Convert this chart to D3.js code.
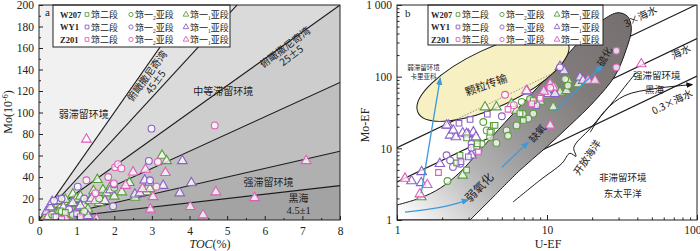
<!DOCTYPE html>
<html>
<head>
<meta charset="utf-8">
<script src="https://cdn.jsdelivr.net/npm/d3@7"></script>
<style>
body { margin: 0; background: #fff; }
text { font-family: "Liberation Serif", "Times New Roman", serif; fill: #222; }
.cn { font-family: "Noto Sans CJK SC", sans-serif; }
</style>
</head>
<body>
<svg id="chart" width="700" height="251"></svg>
<script>
// ---------- data ----------
const wells = ["W207", "WY1", "Z201"];
const wellColors = ["#5a9e3c", "#8a5fc6", "#e05cbc"];
const members = ["筇二段", "筇一2亚段", "筇一1亚段"];

// panel a : Mo/TOC reference lines (Mo = k * TOC)
const moTocSlopes = [50, 38, 25, 16, 8, 4];
const zoneFills = ["#f1f1f1", "#e3e3e3", "#dadada", "#cdcdcd", "#bfbfbf", "#b0b0b0", "#a3a3a3"];

// panel a points [TOC %, Mo ppm]
const aW207sq = [[0.4, 3], [0.7, 7]];
const aW207c2 = [[0.35, 5], [0.6, 8], [0.9, 5], [1.2, 8], [1.6, 20], [2.0, 30]];
const aW207t1 = [[0.15, 2], [0.25, 4], [0.3, 8], [0.35, 11], [0.45, 6], [0.5, 3], [0.55, 9], [0.6, 14], [0.65, 17],
  [0.7, 19], [0.75, 6], [0.8, 10], [0.85, 15], [0.9, 24], [1.0, 20], [1.05, 12], [1.1, 22], [1.15, 17], [1.2, 14],
  [1.3, 10], [1.35, 18], [1.45, 27], [1.5, 23], [1.55, 37.5], [1.6, 16], [1.7, 28], [1.8, 25], [1.9, 31], [2.0, 22],
  [2.2, 26], [2.4, 34.7], [2.55, 21], [2.86, 26], [2.9, 31], [2.95, 29], [3.27, 60], [3.39, 55]];
const aWY1sq = [[0.45, 3], [1.0, 6]];
const aWY1c2 = [[0.4, 18], [0.6, 20], [0.8, 10], [1.03, 31], [1.2, 20], [1.97, 12.9], [2.0, 33], [2.92, 55], [2.99, 85], [2.95, 37]];
const aWY1t1 = [[0.2, 8], [0.3, 12], [0.35, 17], [0.5, 18], [0.65, 12], [0.9, 16], [1.1, 13], [1.3, 4], [1.4, 20],
  [1.75, 18], [1.9, 28], [2.55, 24], [2.68, 25], [2.81, 37], [2.94, 35], [3.3, 32], [3.74, 25], [3.81, 55], [4.05, 34.4]];
const aZ201sq = [[0.6, 1], [1.1, 3]];
const aZ201c2 = [[1.26, 37], [1.84, 40], [1.99, 34], [2.02, 49], [2.1, 52], [2.19, 48], [3.12, 31], [3.16, 54], [4.67, 88], [1.5, 25]];
const aZ201t1 = [[0.25, 3], [0.7, 2], [1.26, 75], [1.5, 18], [1.53, 0.6], [2.3, 32], [2.5, 44.5], [2.83, 47], [2.96, 9.9],
  [3.03, 21.5], [3.36, 44], [4.02, 12.3], [4.36, 4.6], [4.7, 26], [5.73, 20.6], [7.1, 55], [2.75, 29]];

// panel b : seawater Mo/U lines (Mo-EF = f * ratio * U-EF)
const seawaterRatio = 3.4;
const seawaterFactors = [3, 1, 0.3];

// panel b outlines [U-EF, Mo-EF]
const trendBand = [[1, 1.62], [1.42, 2.02], [1.94, 2.78], [2.63, 4.64], [3.57, 9.38], [5.25, 23], [7.7, 54.5],
  [12.2, 156], [17.9, 371], [23.6, 620], [29.7, 780], [34.5, 690], [36.5, 464], [33.5, 230], [28.4, 103],
  [20.9, 46.4], [14.2, 20.9], [9.7, 10], [6.6, 4.95], [4.5, 2.22], [3.07, 1], [1, 1]];
const shuttleAxis = [[1.38, 31.6], [13.8, 297]];
const openOceanBrace = [[5.93, 1.78], [8.98, 3.59], [12.6, 6.19], [14.2, 8.53], [15.6, 7.74], [15.1, 10.3],
  [19.4, 18.9], [26.3, 39.6], [34.7, 82.5], [39.2, 113]];
const blackSeaPath = [[19.4, 16.7], [24.4, 33.7], [33.1, 54.5], [52.5, 68.1], [92.6, 77.4]];
const cariacoArrow = [[1.45, 2.37], [1.94, 93.8]];
const suboxicArrow = [[1.13, 1.29], [1.94, 1.5], [2.97, 1.9]];
const anoxicArrow = [[5.01, 5.45], [7.47, 12.1]];
const euxinicArrow = [[11, 31.6], [23.3, 142]];

// panel b points [U-EF, Mo-EF]
const bW207sq = [[2.63, 8], [2.5, 6.25], [2.91, 14], [3.4, 10.6], [3.43, 11.6], [4.26, 17.8], [4.38, 20.9], [4.17, 16.8],
  [4.5, 20.9], [6.95, 24.5], [6.6, 30.5], [2.91, 5.0], [8.1, 46.4]];
const bW207c2 = [[2.17, 3.5], [3.96, 17.8], [4.17, 14.4], [4.6, 11.9], [3.76, 23.3], [5.38, 17.8], [6.27, 20.9], [3.66, 11.6],
  [6.78, 44.5], [7.7, 48.8], [13.8, 75], [13.2, 92.5], [8.1, 30.5], [6.9, 30.5], [5.5, 15], [7.5, 26]];
const bW207t1 = [[1.45, 2.1], [2.74, 4.2], [3.86, 37.6], [4.6, 37.6], [5.8, 41.7], [6.27, 33.6], [11.3, 71], [12.2, 60.7],
  [13.5, 63.6], [13.8, 88], [16.1, 79], [11, 37.6], [9, 45], [10, 55]];
const bWY1sq = [[2.67, 6.5], [2.99, 7.6], [2.59, 22.4], [3.07, 25.3], [4.0, 30]];
const bWY1c2 = [[2.14, 8.0], [2.26, 6.8], [2.36, 5.5], [3.14, 11.6], [3.14, 10.2], [3.49, 9.4], [2.63, 6.1], [12.2, 135], [8.5, 40], [5, 28]];
const bWY1t1 = [[1.25, 3.5], [1.46, 4.7], [1.45, 3.3], [1.93, 6.1], [2.26, 15.2], [2.47, 14.4], [2.74, 16.3], [2.99, 15.6],
  [3.23, 16.8], [3.36, 14.4], [2.2, 20.9], [2.14, 20.9], [2.37, 17.8], [2.91, 16], [3.23, 9.4], [3.14, 8], [7.4, 62],
  [10.2, 57.6], [11.3, 57.6], [12.2, 138], [16.6, 98], [17.4, 88], [13, 120]];
const bZ201sq = [[1.89, 4.6], [3.49, 8.9], [7.9, 41.7], [5.5, 35], [9, 50]];
const bZ201c2 = [[5.25, 56], [8.97, 52], [29, 230], [29, 135], [10.5, 70], [6, 40]];
const bZ201t1 = [[1.13, 3.8], [1.59, 3.1], [1.42, 2.3], [7.3, 63.6], [10.5, 79], [18.8, 88], [20.9, 88], [42.5, 150],
  [11, 71], [10.5, 20.9], [9.5, 62]];

// ---------- setup ----------
const svg = d3.select("#chart");
const defs = svg.append("defs");
const shapes = [d3.symbolSquare, d3.symbolCircle, d3.symbolTriangle];
const shapeSize = [32, 36, 40];
const sym = (m) => d3.symbol().type(shapes[m]).size(shapeSize[m])();

const seriesA = [
  [aW207sq, aW207c2, aW207t1], [aWY1sq, aWY1c2, aWY1t1], [aZ201sq, aZ201c2, aZ201t1]];
const seriesB = [
  [bW207sq, bW207c2, bW207t1], [bWY1sq, bWY1c2, bWY1t1], [bZ201sq, bZ201c2, bZ201t1]];

function drawPoints(g, series, x, y) {
  [2, 1, 0].forEach(m => {
    series.forEach((wellSeries, w) => {
      g.selectAll(null)
        .data(wellSeries[m])
        .enter()
        .append("path")
        .attr("d", sym(m))
        .attr("transform", d => `translate(${x(d[0])},${y(d[1])})`)
        .attr("fill", "#fff")
        .attr("fill-opacity", 0.75)
        .attr("stroke", wellColors[w])
        .attr("stroke-width", 1.1);
    });
  });
}

function drawLegend(g, x0, y0, w, h, wellX) {
  g.append("rect").attr("x", x0).attr("y", y0).attr("width", w).attr("height", h)
    .attr("fill", "#fff").attr("stroke", "#222").attr("stroke-width", 1);
  const colX = [wellX + 27, wellX + 71, wellX + 126];
  wells.forEach((name, i) => {
    const cy = y0 + 9.5 + i * 12.5;
    g.append("text").attr("x", wellX).attr("y", cy + 3).attr("font-size", 8.5).attr("font-weight", "bold").text(name);
    members.forEach((m, j) => {
      g.append("path").attr("d", d3.symbol().type(shapes[j]).size(14)())
        .attr("transform", `translate(${colX[j]},${cy})`)
        .attr("fill", "#fff").attr("stroke", wellColors[i]).attr("stroke-width", 0.9);
      const t = g.append("text").attr("class", "cn").attr("x", colX[j] + 4).attr("y", cy + 3.5).attr("font-size", 9);
      if (j === 0) t.text(m);
      else {
        t.append("tspan").text("筇一");
        t.append("tspan").attr("font-size", 5.5).attr("dy", 2).attr("font-family", "Liberation Serif").text(m[2]);
        t.append("tspan").attr("dy", -2).text("亚段");
      }
    });
  });
}

function rotText(g, px, py, angle, lines, size, cls) {
  const t = g.append("text").attr("transform", `translate(${px},${py}) rotate(${angle})`)
    .attr("text-anchor", "middle").attr("font-size", size);
  if (cls) t.attr("class", cls);
  lines.forEach((l, i) => {
    t.append("tspan").attr("x", 0).attr("dy", i === 0 ? 0 : size * 1.05).text(l);
  });
  return t;
}

// ---------- panel a ----------
const xa = d3.scaleLinear().domain([0, 8]).range([39, 340]);
const ya = d3.scaleLinear().domain([0, 200]).range([220, 5]);
const ga = svg.append("g");
defs.append("clipPath").attr("id", "clipA").append("rect")
  .attr("x", xa(0)).attr("y", ya(200)).attr("width", xa(8) - xa(0)).attr("height", ya(0) - ya(200));
const za = ga.append("g").attr("clip-path", "url(#clipA)");
const poly = d3.line().x(d => xa(d[0])).y(d => ya(d[1]));
const edges = [1e6].concat(moTocSlopes).concat([0]);
for (let i = 0; i < edges.length - 1; i++) {
  const hi = edges[i], lo = edges[i + 1];
  const pts = i === 0 ? [[0, 0], [0, 1000], [8, 8 * lo]] : [[0, 0], [8, 8 * hi], [8, 8 * lo]];
  za.append("path").attr("d", poly(pts) + "Z").attr("fill", zoneFills[i]);
}
moTocSlopes.forEach(k => {
  za.append("path").attr("d", poly([[0, 0], [8, 8 * k]])).attr("stroke", "#1a1a1a").attr("stroke-width", 1.1).attr("fill", "none");
});
drawPoints(za, seriesA, xa, ya);

// labels a
ga.append("text").attr("class", "cn").attr("x", xa(1.19)).attr("y", ya(95)).attr("text-anchor", "middle").attr("font-size", 10).text("弱滞留环境");
rotText(ga, xa(2.95), ya(132), -54, ["俯瞰撒尼奇湾", "45±5"], 10, "cn");
rotText(ga, xa(6.6), ya(158), -37, ["俯瞰撒尼奇湾", "25±5"], 10, "cn");
ga.append("text").attr("class", "cn").attr("x", xa(4.9)).attr("y", ya(116)).attr("text-anchor", "middle").attr("font-size", 10).text("中等滞留环境");
ga.append("text").attr("class", "cn").attr("x", xa(6.1)).attr("y", ya(32)).attr("text-anchor", "middle").attr("font-size", 10).text("强滞留环境");
ga.append("text").attr("class", "cn").attr("x", xa(6.9)).attr("y", ya(17)).attr("text-anchor", "middle").attr("font-size", 10).text("黑海");
ga.append("text").attr("x", xa(6.9)).attr("y", ya(6)).attr("text-anchor", "middle").attr("font-size", 10.5).text("4.5±1");

drawLegend(ga, 53, 5, 177, 42, 60);
ga.append("text").attr("x", 45).attr("y", 16).attr("font-size", 11).text("a");

// axes a
ga.append("g").attr("transform", `translate(0,${ya(0)})`)
  .call(d3.axisBottom(xa).ticks(8).tickSizeInner(-4).tickSizeOuter(0).tickPadding(7));
ga.append("g").attr("transform", `translate(0,${ya(0)})`)
  .call(d3.axisBottom(xa).tickValues(d3.range(0.5, 8, 1)).tickSize(-2).tickFormat(""));
ga.append("g").attr("transform", `translate(${xa(0)},0)`)
  .call(d3.axisLeft(ya).tickValues(d3.range(0, 201, 20)).tickSizeInner(-4).tickSizeOuter(0).tickPadding(5));
ga.append("g").attr("transform", `translate(${xa(0)},0)`)
  .call(d3.axisLeft(ya).tickValues(d3.range(10, 200, 20)).tickSize(-2).tickFormat(""));
ga.append("rect").attr("x", xa(0)).attr("y", ya(200)).attr("width", xa(8) - xa(0)).attr("height", ya(0) - ya(200))
  .attr("fill", "none").attr("stroke", "#222").attr("stroke-width", 1);
const tA = ga.append("text").attr("x", 210).attr("y", 248).attr("text-anchor", "middle").attr("font-size", 12);
tA.append("tspan").attr("font-style", "italic").text("TOC");
tA.append("tspan").text("(%)");
const yA = ga.append("text").attr("transform", "translate(12,112) rotate(-90)").attr("text-anchor", "middle").attr("font-size", 12);
yA.append("tspan").text("Mo(10");
yA.append("tspan").attr("font-size", 8).attr("dy", -4).text("-6");
yA.append("tspan").attr("dy", 4).text(")");

// ---------- panel b ----------
const xb = d3.scaleLog().domain([1, 100]).range([397, 697]);
const yb = d3.scaleLog().domain([1, 1000]).range([220, 5]);
const gb = svg.append("g");
defs.append("clipPath").attr("id", "clipB").append("rect")
  .attr("x", xb(1)).attr("y", yb(1000)).attr("width", xb(100) - xb(1)).attr("height", yb(1) - yb(1000));
const zb = gb.append("g").attr("clip-path", "url(#clipB)");
const lineB = d3.line().x(d => xb(d[0])).y(d => yb(d[1]));
const curveB = d3.line().x(d => xb(d[0])).y(d => yb(d[1])).curve(d3.curveCatmullRom);

seawaterFactors.forEach(f => {
  const r = f * seawaterRatio;
  zb.append("path").attr("d", lineB([[1, r], [100, 100 * r]])).attr("stroke", "#1a1a1a").attr("stroke-width", 1.1).attr("fill", "none");
});

const grad = defs.append("linearGradient").attr("id", "bandGrad").attr("gradientUnits", "userSpaceOnUse")
  .attr("x1", xb(1)).attr("y1", yb(1.2)).attr("x2", xb(30)).attr("y2", yb(700));
[[0, "#ffffff"], [0.3, "#b3b3b3"], [0.5, "#979595"], [0.75, "#817b7b"], [1, "#767070"]].forEach(s => {
  grad.append("stop").attr("offset", s[0]).attr("stop-color", s[1]);
});
zb.append("path").attr("d", curveB(trendBand.slice(0, -2)) + "L" + xb(trendBand[trendBand.length - 2][0]) + "," + yb(1) + "L" + xb(1) + "," + yb(1) + "Z")
  .attr("fill", "url(#bandGrad)").attr("stroke", "#1a1a1a").attr("stroke-width", 1);

// particle shuttle ellipse
const p0 = [xb(shuttleAxis[0][0]), yb(shuttleAxis[0][1])], p1 = [xb(shuttleAxis[1][0]), yb(shuttleAxis[1][1])];
const ecx = (p0[0] + p1[0]) / 2, ecy = (p0[1] + p1[1]) / 2;
const erx = Math.hypot(p1[0] - p0[0], p1[1] - p0[1]) / 2;
const eang = Math.atan2(p1[1] - p0[1], p1[0] - p0[0]) * 180 / Math.PI;
defs.append("clipPath").attr("id", "clipE").append("ellipse")
  .attr("cx", 0).attr("cy", 0).attr("rx", erx).attr("ry", 29)
  .attr("transform", `translate(${ecx},${ecy}) rotate(${eang})`);
zb.append("ellipse").attr("cx", 0).attr("cy", 0).attr("rx", erx).attr("ry", 29)
  .attr("transform", `translate(${ecx},${ecy}) rotate(${eang})`)
  .attr("fill", "#f6f0c2").attr("stroke", "#1a1a1a").attr("stroke-width", 1);
zb.append("g").attr("clip-path", "url(#clipE)").append("path")
  .attr("d", lineB([[1, 3 * seawaterRatio], [100, 300 * seawaterRatio]]))
  .attr("stroke", "#888").attr("stroke-width", 0.9).attr("stroke-dasharray", "1.5,1.5").attr("fill", "none");

// trend curves
defs.append("marker").attr("id", "blackHead").attr("viewBox", "0 0 10 10").attr("refX", 8).attr("refY", 5)
  .attr("markerWidth", 7).attr("markerHeight", 7).attr("orient", "auto")
  .append("path").attr("d", "M0,1 L10,5 L0,9 Z").attr("fill", "#111");
defs.append("marker").attr("id", "blueHead").attr("viewBox", "0 0 10 10").attr("refX", 8).attr("refY", 5)
  .attr("markerWidth", 6).attr("markerHeight", 6).attr("orient", "auto")
  .append("path").attr("d", "M0,1 L10,5 L0,9 Z").attr("fill", "#3d9ad8");
zb.append("path").attr("d", curveB(openOceanBrace)).attr("fill", "none").attr("stroke", "#1a1a1a").attr("stroke-width", 1);
zb.append("path").attr("d", curveB(blackSeaPath)).attr("fill", "none").attr("stroke", "#1a1a1a").attr("stroke-width", 1)
  .attr("marker-end", "url(#blackHead)");

drawPoints(zb, seriesB, xb, yb);

[cariacoArrow, suboxicArrow, anoxicArrow, euxinicArrow].forEach(a => {
  zb.append("path").attr("d", curveB(a)).attr("fill", "none").attr("stroke", "#3d9ad8").attr("stroke-width", 1.3)
    .attr("marker-end", "url(#blueHead)");
});

// labels b
const lb = (u, m) => [xb(u), yb(m)];
gb.append("text").attr("class", "cn").attr("x", xb(1.5)).attr("y", yb(125)).attr("text-anchor", "middle").attr("font-size", 6.5).text("弱滞留环境");
gb.append("text").attr("class", "cn").attr("x", xb(1.5)).attr("y", yb(100) + 2).attr("text-anchor", "middle").attr("font-size", 6.5).text("卡里亚科");
rotText(gb, ...lb(4.0, 68), -20, ["颗粒传输"], 11, "cn");
rotText(gb, ...lb(3.7, 2.6), -46, ["弱氧化"], 11.5, "cn");
rotText(gb, ...lb(9.0, 15), -50, ["缺氧"], 10, "cn");
rotText(gb, ...lb(25.5, 180), -62, ["硫化"], 10, "cn");
rotText(gb, ...lb(43, 620), -26, ["3×海水"], 10, "cn");
rotText(gb, ...lb(80, 200), -26, ["海水"], 10, "cn");
rotText(gb, ...lb(70, 40), -26, ["0.3×海水"], 10, "cn");
gb.append("text").attr("class", "cn").attr("x", xb(54)).attr("y", yb(94)).attr("text-anchor", "middle").attr("font-size", 9.5).text("强滞留环境");
gb.append("text").attr("class", "cn").attr("x", xb(52)).attr("y", yb(59)).attr("text-anchor", "middle").attr("font-size", 9.5).text("黑海");
rotText(gb, ...lb(19.4, 7.0), -56, ["开放海洋"], 10, "cn");
gb.append("text").attr("class", "cn").attr("x", xb(32)).attr("y", yb(3.45)).attr("text-anchor", "middle").attr("font-size", 9.5).text("非滞留环境");
gb.append("text").attr("class", "cn").attr("x", xb(32)).attr("y", yb(2.1)).attr("text-anchor", "middle").attr("font-size", 9.5).text("东太平洋");

drawLegend(gb, 428, 5, 175, 40, 431);
gb.append("text").attr("x", 405).attr("y", 17).attr("font-size", 11).text("b");

// axes b
const minorU = [2, 3, 4, 5, 6, 7, 8, 9, 20, 30, 40, 50, 60, 70, 80, 90];
const minorM = minorU.concat([200, 300, 400, 500, 600, 700, 800, 900]);
const axB = gb.append("g").attr("transform", `translate(0,${yb(1)})`)
  .call(d3.axisBottom(xb).tickValues([1, 10, 100]).tickFormat(d3.format("d")).tickSizeInner(-5).tickSizeOuter(0).tickPadding(6));
axB.selectAll(".tick text").filter(d => d === 100).attr("text-anchor", "end").attr("dx", 4);
gb.append("g").attr("transform", `translate(0,${yb(1)})`)
  .call(d3.axisBottom(xb).tickValues(minorU).tickSize(-2.5).tickFormat(""));
gb.append("g").attr("transform", `translate(${xb(1)},0)`)
  .call(d3.axisLeft(yb).tickValues([1, 10, 100, 1000]).tickFormat(d => d === 1000 ? "1 000" : String(d))
    .tickSizeInner(-5).tickSizeOuter(0).tickPadding(5));
gb.append("g").attr("transform", `translate(${xb(1)},0)`)
  .call(d3.axisLeft(yb).tickValues(minorM).tickSize(-2.5).tickFormat(""));
gb.append("rect").attr("x", xb(1)).attr("y", yb(1000)).attr("width", xb(100) - xb(1)).attr("height", yb(1) - yb(1000))
  .attr("fill", "none").attr("stroke", "#222").attr("stroke-width", 1);
gb.append("text").attr("x", 548).attr("y", 248).attr("text-anchor", "middle").attr("font-size", 12).text("U-EF");
gb.append("text").attr("transform", "translate(369,125) rotate(-90)").attr("text-anchor", "middle").attr("font-size", 12).text("Mo-EF");

svg.selectAll(".tick text").attr("font-size", 11.5).attr("font-family", "Liberation Serif").attr("fill", "#222");
svg.selectAll(".domain").remove();
svg.selectAll(".tick line").attr("stroke", "#222");
</script>
</body>
</html>
